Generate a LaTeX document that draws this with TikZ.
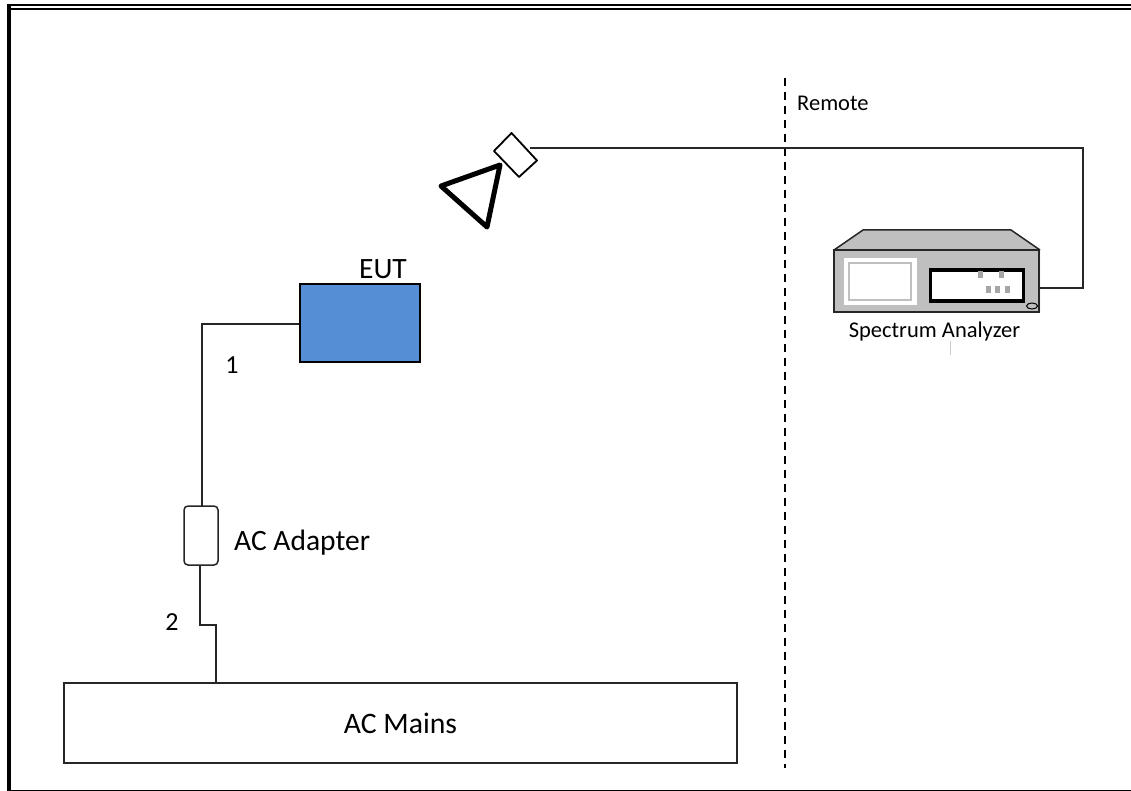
\documentclass[tikz,border=0pt]{standalone}
\usepackage{fontspec}
\setmainfont{Carlito}
\usetikzlibrary{shapes.geometric, positioning, calc}
\definecolor{eutblue}{HTML}{558ED5}
\definecolor{instgray}{HTML}{BFBFBF}

\begin{document}
\begin{tikzpicture}[
  x=1pt, y=-1pt,
  wire/.style={draw=black!85, line width=1.5pt},
  eutbox/.style={draw=black, line width=1.3pt, fill=eutblue, minimum width=120pt, minimum height=78pt, inner sep=0pt},
  mainsbox/.style={draw=black!85, line width=1.3pt, fill=white, minimum width=673pt, minimum height=80pt, inner sep=0pt, font=\fontsize{29.7}{34}\selectfont},
  adapterbox/.style={draw=black!85, line width=1.5pt, fill=white, rounded corners=4pt, minimum width=34pt, minimum height=59pt, inner sep=0pt},
  biglabel/.style={inner sep=0pt, font=\fontsize{29.5}{34}\selectfont},
  numlabel/.style={inner sep=0pt, font=\fontsize{26}{30}\selectfont},
  smalllabel/.style={inner sep=0pt, font=\fontsize{22.5}{26}\selectfont},
  btn/.style={fill=gray!70, minimum width=5pt, minimum height=7pt, inner sep=0pt},
]
\useasboundingbox (0,0) rectangle (1131,791);

% --- frame ---
\fill[black] (7,4) rectangle (1131,6);
\fill[black] (7,8) rectangle (1131,10);
\fill[black] (7,4) rectangle (11,791);
\fill[black] (7,789.5) rectangle (1131,791);

% --- remote boundary ---
\coordinate (dashtop) at (785,78);
\coordinate (dashbot) at (785,768);
\draw[black, line width=1.3pt, dash pattern=on 8pt off 6pt] (dashtop) -- (dashbot);
\node[smalllabel, anchor=west] (remote) at (797,103) {Remote};

% --- EUT side ---
\node[eutbox] (eut) at (360,323) {};
\node[biglabel] (eutlabel) at (383,269) {EUT};
\node[adapterbox] (adapter) at (201,535.5) {};
\node[biglabel, anchor=west] (adapterlabel) at (234,543) {AC Adapter};
\node[mainsbox] (mains) at (400.5,723) {AC Mains};
\node[numlabel] (cableone) at (232,365) {1};
\node[numlabel] (cabletwo) at (172,622) {2};

\coordinate (bendone) at (202,324);
\coordinate (adaptertop) at (202,506);
\coordinate (adapterbot) at (200,565);
\coordinate (jogleft) at (200,625);
\coordinate (jogright) at (216,625);
\coordinate (mainstop) at (216,683);
\draw[wire] (eut.west |- bendone) -- (bendone) -- (adaptertop);
\draw[wire] (adapterbot) -- (jogleft) -- (jogright) -- (mainstop);

% --- antenna ---
\coordinate (horntip) at (500,165);
\coordinate (hornleft) at (441,186);
\coordinate (hornbot) at (487,227);
\draw[black, line width=5pt, line join=round] (horntip) -- (hornleft) -- (hornbot) -- cycle;
\draw[black, line width=1.8pt, fill=white, line join=round]
  (511.5,133) -- (537,160.5) -- (519,177) -- (494,151) -- cycle;
\coordinate (feed) at (530,148);

% --- spectrum analyzer ---
\fill[instgray] (834,250) -- (863,230) -- (1011,230) -- (1040,250) -- (1040,312) -- (834,312) -- cycle;
\draw[black!85, line width=1.5pt] (834,250) -- (863,230) -- (1011,230) -- (1040,250);
\node[draw=black!85, line width=1.5pt, fill=instgray, minimum width=205pt, minimum height=62pt, inner sep=0pt] (analyzer) at (936.5,281) {};
\fill[white] (844,258) rectangle (917,305);
\draw[instgray, line width=1.3pt] (849,263) rectangle (911,300);
\node[draw=black, line width=3.5pt, fill=white, minimum width=93pt, minimum height=31pt, inner sep=0pt] (panel) at (977,285.5) {};
\foreach \bx/\by in {980/275, 1001/275, 988/290, 997/290, 1007/290}
{
  \node[btn] at (\bx,\by) {};
}
\node[draw=black, line width=1pt, fill=instgray, ellipse, minimum width=11pt, minimum height=6pt, inner sep=0pt] (knob) at (1032,306) {};
\node[smalllabel] (analyzerlabel) at (934.5,332) {Spectrum Analyzer};
\coordinate (ticktop) at (950,341);
\coordinate (tickbot) at (950,355);
\draw[black!20, line width=0.8pt] (ticktop) -- (tickbot);

\coordinate (cornerone) at (1083,148);
\coordinate (cornertwo) at (1083,288);
\draw[wire] (feed) -- (cornerone) -- (cornertwo) -- (analyzer.east |- cornertwo);

\end{tikzpicture}
\end{document}
